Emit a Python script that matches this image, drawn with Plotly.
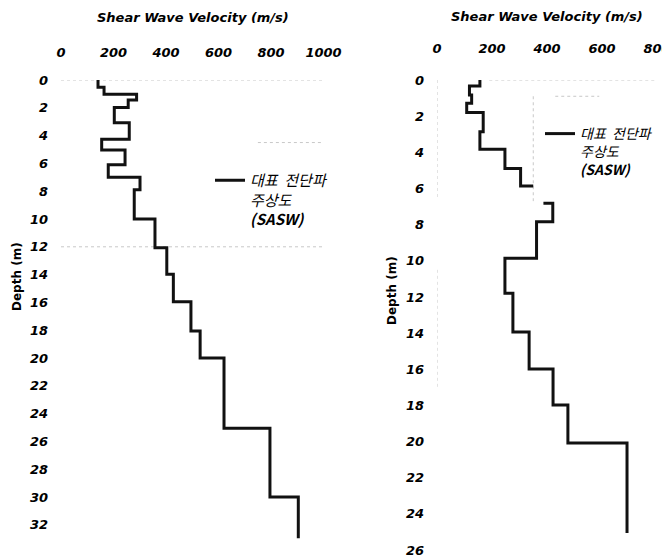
import plotly.graph_objects as go

# ---------------- data ----------------
# Left profile: layer boundary depths (m) and shear-wave velocity of each layer (m/s)
left_depth = [0, 0.53, 1.03, 1.44, 1.97, 3.07, 4.27, 5.04, 6.1, 7.0, 7.9, 10.0,
              12.06, 13.98, 15.95, 18.06, 20.0, 25.06, 30.0, 32.97]
left_vs = [141, 164, 288, 256, 203, 260, 155, 244, 180, 301, 279, 358,
           403, 428, 495, 530, 621, 796, 904]

# Right profile (drawn in two pieces, as in the original figure)
right_depth_a = [0, 0.33, 0.83, 1.29, 1.8, 2.86, 3.83, 4.89, 5.86, 5.86]
right_vs_a = [156, 118, 126, 108, 168, 156, 247, 304, 350]
right_depth_b = [6.82, 6.82, 7.84, 9.86, 11.8, 13.94, 15.98, 17.98, 20.08, 25.05]
right_vs_b = [387, 421, 362, 247, 276, 335, 422, 476, 691]

left_xticks = [0, 200, 400, 600, 800, 1000]
right_xticks = [0, 200, 400, 600, 800]
left_yticks = list(range(0, 33, 2))
right_yticks = list(range(0, 27, 2))

x_title = "Shear Wave Velocity (m/s)"
y_title = "Depth (m)"
legend_name = "<i>대표  전단파</i><br><i>주상도</i><br><b><i>(SASW)</i></b>"


def step_path(depths, vs):
    xs, ys = [], []
    for i, v in enumerate(vs):
        xs += [v, v]
        ys += [depths[i], depths[i + 1]]
    return xs, ys


lx, ly = step_path(left_depth, left_vs)
ax1, ay1 = step_path(right_depth_a, right_vs_a)
bx1, by1 = step_path(right_depth_b, right_vs_b)
rx = ax1 + [None] + bx1
ry = ay1 + [None] + by1

W, H = 670, 557
OFF = 8  # page body margin


def px(x):
    return (x - OFF) / W


def py(y):
    return 1 - (y - OFF) / H


tick_font = dict(family="DejaVu Sans", size=13, color="black", weight="bold", style="italic")

fig = go.Figure()
fig.add_trace(go.Scatter(x=lx, y=ly, mode="lines", name=legend_name, showlegend=True,
                         line=dict(color="#111111", width=3),
                         xaxis="x", yaxis="y", legend="legend"))
fig.add_trace(go.Scatter(x=rx, y=ry, mode="lines", name=legend_name, showlegend=True,
                         line=dict(color="#111111", width=3), connectgaps=False,
                         xaxis="x2", yaxis="y2", legend="legend2"))

common_x = dict(side="top", showgrid=False, zeroline=False, showline=False,
                ticks="", tickfont=tick_font, automargin=False)
common_y = dict(showgrid=False, zeroline=False, showline=False, ticks="",
                tickfont=tick_font, ticklabelstandoff=12, automargin=False)

fig.update_layout(
    width=W, height=H, showlegend=True,
    margin=dict(l=0, r=0, t=0, b=0, autoexpand=False),
    paper_bgcolor="white", plot_bgcolor="white",
    xaxis=dict(domain=[px(61), px(61 + 1000 * 0.2625)], range=[0, 1000],
               tickvals=left_xticks, anchor="y", ticklabelstandoff=19, **common_x),
    yaxis=dict(domain=[py(80 + 34 * 13.9), py(80)], range=[34, 0],
               tickvals=left_yticks, anchor="x", **common_y),
    xaxis2=dict(domain=[px(437), px(437 + 800 * 0.275)], range=[0, 800],
                tickvals=right_xticks, anchor="y2", ticklabelstandoff=23, **common_x),
    yaxis2=dict(domain=[py(80 + 26.3 * 18.08), py(80)], range=[26.3, 0],
                tickvals=right_yticks, anchor="x2", **common_y),
    legend=dict(x=px(210), y=py(164), xanchor="left", yanchor="top",
                bgcolor="rgba(0,0,0,0)", valign="top", itemwidth=30,
                font=dict(family="Noto Sans CJK KR", size=15, color="black", style="italic")),
    legend2=dict(x=px(540), y=py(118), xanchor="left", yanchor="top",
                 bgcolor="rgba(0,0,0,0)", valign="top", itemwidth=30,
                 font=dict(family="Noto Sans CJK KR", size=14, color="black", style="italic")),
)

title_font = dict(family="DejaVu Sans", size=13, color="black", weight="bold", style="italic")
fig.add_annotation(text=x_title, x=px(193), y=py(18), xref="paper", yref="paper",
                   xanchor="center", yanchor="middle", showarrow=False, font=title_font)
fig.add_annotation(text=x_title, x=px(547), y=py(17), xref="paper", yref="paper",
                   xanchor="center", yanchor="middle", showarrow=False, font=title_font)
ytf = dict(family="DejaVu Sans", size=12, color="black", weight="bold")
fig.add_annotation(text=y_title, x=px(17), y=py(277), xref="paper", yref="paper",
                   xanchor="center", yanchor="middle", showarrow=False, textangle=-90, font=ytf)
fig.add_annotation(text=y_title, x=px(392), y=py(291), xref="paper", yref="paper",
                   xanchor="center", yanchor="middle", showarrow=False, textangle=-90, font=ytf)

# faint dotted grid remnants
grid = dict(color="#c8c8c8", width=1, dash="dot")
fig.add_shape(type="line", xref="x", yref="y", x0=0, x1=1000, y0=0, y1=0, line=grid, layer="below")
fig.add_shape(type="line", xref="x", yref="y", x0=0, x1=1000, y0=12, y1=12, line=grid, layer="below")
fig.add_shape(type="line", xref="x", yref="y", x0=750, x1=1000, y0=4.5, y1=4.5, line=grid, layer="below")
fig.add_shape(type="line", xref="x2", yref="y2", x0=190, x1=800, y0=0, y1=0, line=grid, layer="below")
fig.add_shape(type="line", xref="x2", yref="y2", x0=430, x1=590, y0=0.9, y1=0.9, line=grid, layer="below")
fig.add_shape(type="line", xref="x2", yref="y2", x0=0, x1=0, y0=0, y1=6.5, line=grid, layer="below")
fig.add_shape(type="line", xref="x2", yref="y2", x0=0, x1=0, y0=10.5, y1=17, line=grid, layer="below")
fig.add_shape(type="line", xref="x2", yref="y2", x0=350, x1=350, y0=0.9, y1=6.7, line=grid, layer="below")

fig.write_html("out.html")
